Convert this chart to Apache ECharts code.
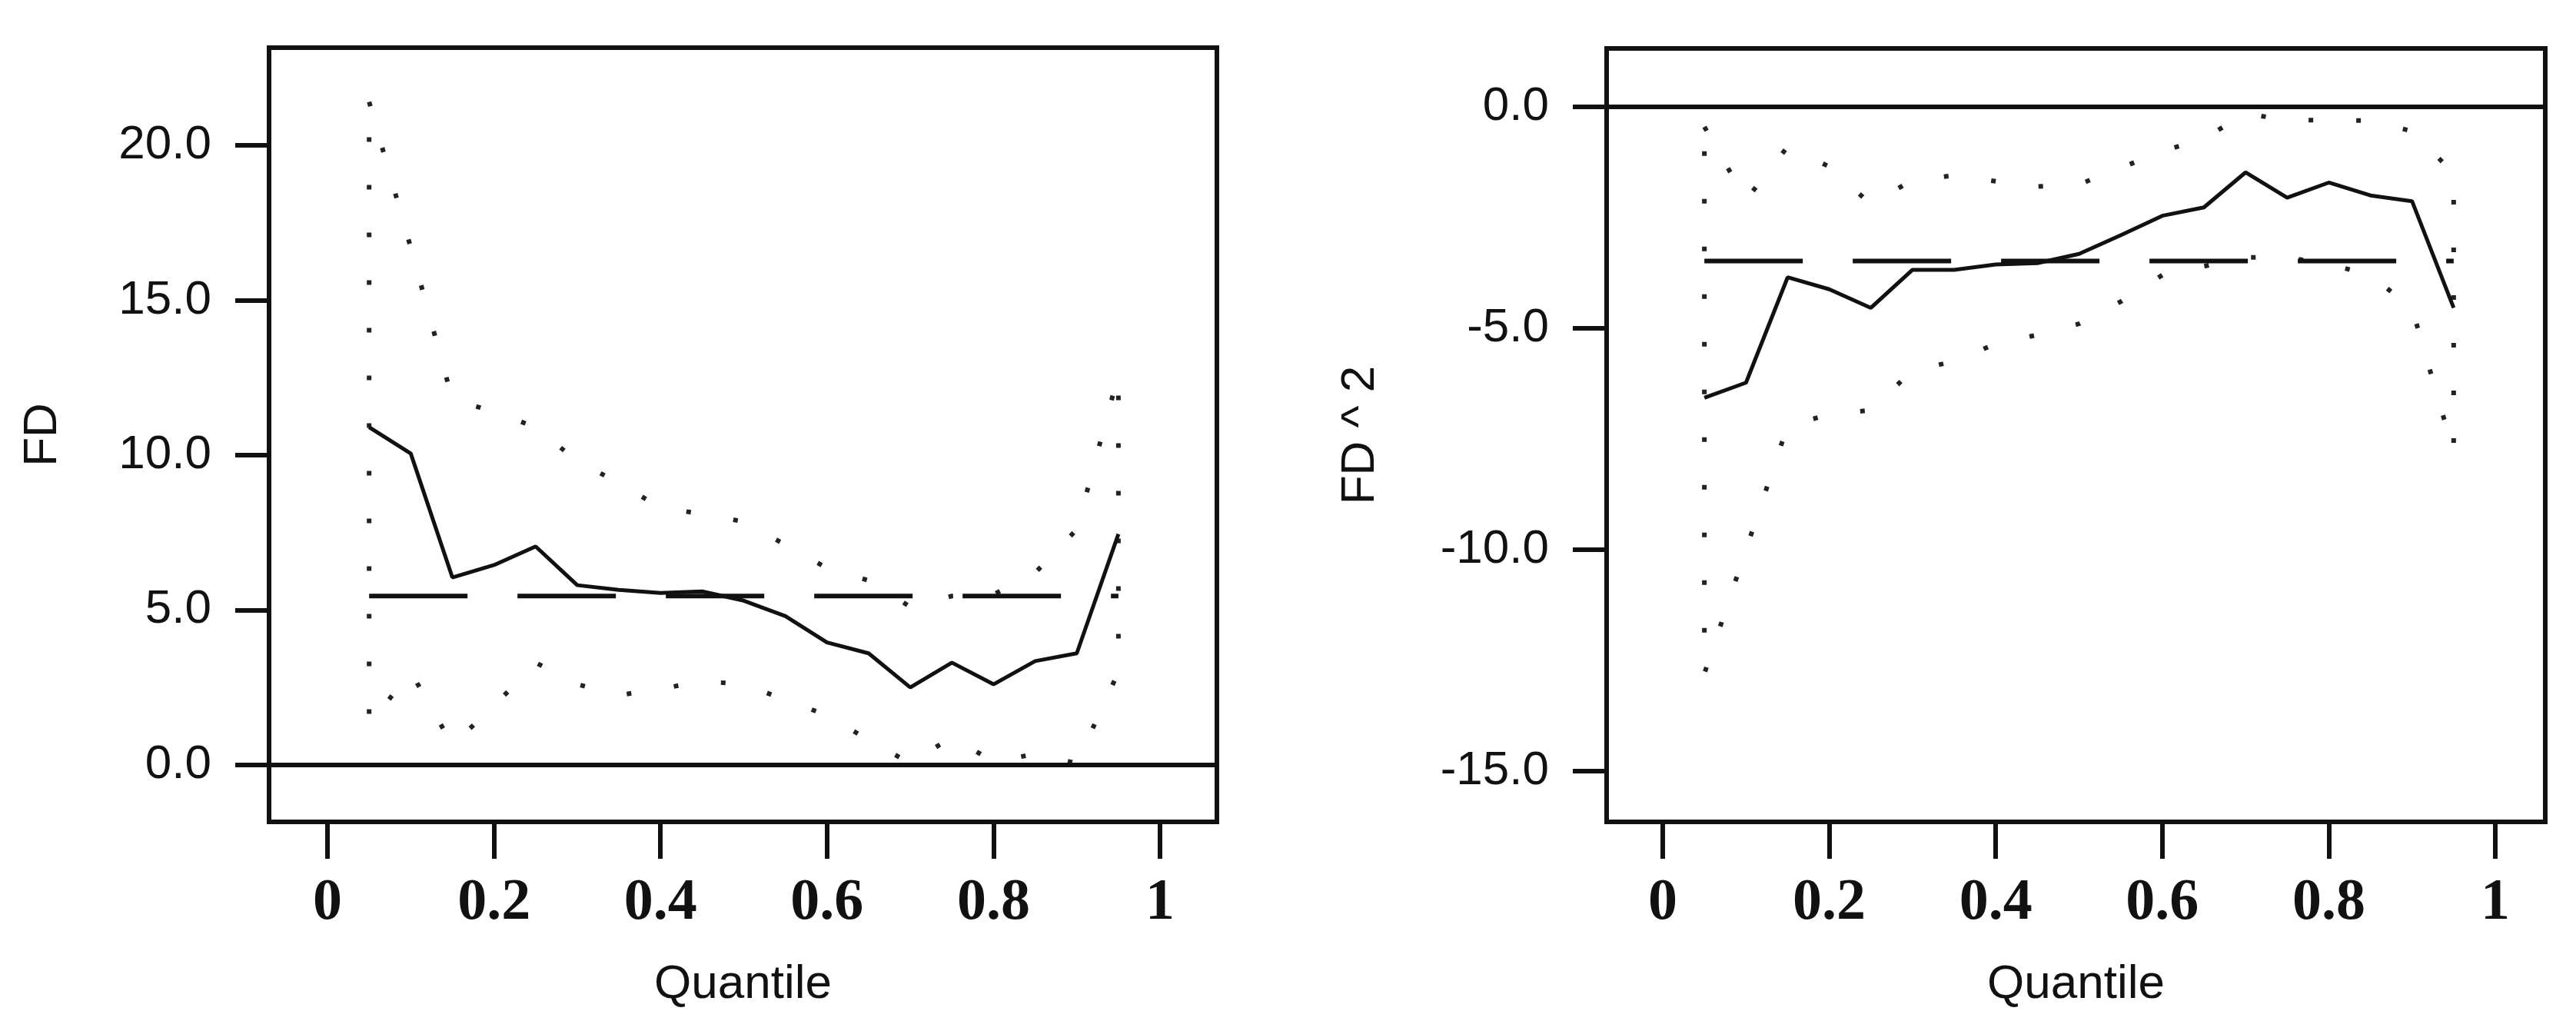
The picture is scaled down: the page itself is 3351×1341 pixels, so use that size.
<!DOCTYPE html>
<html>
<head>
<meta charset="utf-8">
<title>Quantile process: FD and FD^2</title>
<script src="https://cdn.jsdelivr.net/npm/echarts@6/dist/echarts.min.js"></script>
<style>
  html, body { margin: 0; padding: 0; background: #fff; }
  #chart { width: 3351px; height: 1341px; }
</style>
</head>
<body>
<div id="chart"></div>
<script>
// quantiles at which the coefficients were estimated
const quantiles = [0.05, 0.10, 0.15, 0.20, 0.25, 0.30, 0.35, 0.40, 0.45, 0.50,
                   0.55, 0.60, 0.65, 0.70, 0.75, 0.80, 0.85, 0.90, 0.95];

// FD panel
const fdCoef  = [10.9, 10.05, 6.05, 6.45, 7.05, 5.8, 5.65, 5.55, 5.6, 5.3,
                 4.8, 3.95, 3.6, 2.5, 3.3, 2.6, 3.35, 3.6, 7.45];
const fdUpper = [21.4, 16.7, 11.8, 11.4, 10.9, 9.8, 9.1, 8.3, 8.1, 7.85,
                 7.1, 6.35, 5.95, 5.1, 5.45, 5.5, 6.2, 7.6, 12.6];
const fdLower = [1.3, 3.0, 0.65, 1.9, 3.3, 2.6, 2.25, 2.45, 2.7, 2.6,
                 2.1, 1.6, 0.8, 0.05, 0.9, 0.1, 0.35, 0.05, 3.0];
const fdOls = 5.45;

// FD^2 panel
const fd2Coef  = [-6.57, -6.23, -3.85, -4.12, -4.54, -3.68, -3.68, -3.56, -3.53, -3.32,
                  -2.9, -2.46, -2.27, -1.48, -2.05, -1.71, -2.0, -2.13, -4.54];
const fd2Upper = [-0.45, -2.1, -0.9, -1.35, -2.2, -1.65, -1.55, -1.68, -1.8, -1.75,
                  -1.38, -1.0, -0.72, -0.15, -0.3, -0.3, -0.31, -0.55, -1.5];
const fd2Lower = [-12.8, -10.0, -7.2, -6.95, -6.85, -5.95, -5.75, -5.35, -5.15, -4.9,
                  -4.4, -3.8, -3.6, -3.4, -3.4, -3.55, -3.8, -4.55, -7.8];
const fd2Ols = -3.48;

// tick labels
const xTicks = [0, 0.2, 0.4, 0.6, 0.8, 1];
const fdTicks = [0, 5, 10, 15, 20];
const fd2Ticks = [-15, -10, -5, 0];

const ink = '#111';
const sans = "'Liberation Sans', Arial, sans-serif";
const serif = "'Liberation Serif', 'Times New Roman', serif";

// closed band: upper edge left to right, lower edge back
function bandPath(upper, lower) {
  const pts = quantiles.map((q, i) => [q, upper[i]]);
  for (let i = quantiles.length - 1; i >= 0; i--) pts.push([quantiles[i], lower[i]]);
  pts.push([quantiles[0], upper[0]]);
  return pts;
}

function xAxisFor(idx, min, max) {
  return {
    type: 'value', gridIndex: idx, min: min, max: max, position: 'bottom',
    name: 'Quantile', nameLocation: 'middle', nameGap: 181,
    nameTextStyle: { fontFamily: sans, fontSize: 62, color: ink },
    axisLine: { show: false, onZero: false },
    axisTick: { show: true, length: 48, lineStyle: { color: ink, width: 6 }, customValues: xTicks },
    axisLabel: {
      margin: 68, fontFamily: serif, fontWeight: 'bold', fontSize: 76, color: ink,
      customValues: xTicks,
      formatter: v => String(v)
    },
    splitLine: { show: false }
  };
}

function yAxisFor(idx, min, max, ticks, name, gap) {
  return {
    type: 'value', gridIndex: idx, min: min, max: max, position: 'left',
    name: name, nameLocation: 'middle', nameGap: gap, nameRotate: 90,
    nameTextStyle: { fontFamily: sans, fontSize: 62, color: ink },
    axisLine: { show: false, onZero: false },
    axisTick: { show: true, length: 44, lineStyle: { color: ink, width: 6 }, customValues: ticks },
    axisLabel: {
      margin: 75, fontFamily: sans, fontSize: 62, color: ink,
      customValues: ticks,
      formatter: v => v.toFixed(1)
    },
    splitLine: { show: false }
  };
}

function panelSeries(idx, coef, upper, lower, ols) {
  return [
    {
      type: 'line', xAxisIndex: idx, yAxisIndex: idx,
      data: bandPath(upper, lower), showSymbol: false, symbol: 'none',
      lineStyle: { color: '#222', width: 6, type: [6, 56], cap: 'butt' }, z: 2
    },
    {
      type: 'line', xAxisIndex: idx, yAxisIndex: idx,
      data: [[quantiles[0], ols], [quantiles[quantiles.length - 1], ols]],
      symbol: 'none', lineStyle: { color: ink, width: 6, type: [128, 65] }, z: 3,
      markLine: {
        silent: true, symbol: ['none', 'none'], label: { show: false },
        lineStyle: { color: ink, width: 6, type: 'solid' },
        data: [{ yAxis: 0 }]
      }
    },
    {
      type: 'line', xAxisIndex: idx, yAxisIndex: idx,
      data: quantiles.map((q, i) => [q, coef[i]]),
      symbol: 'none', lineStyle: { color: ink, width: 5 }, z: 4
    }
  ];
}

const chart = echarts.init(document.getElementById('chart'), null, { renderer: 'canvas' });
chart.setOption({
  backgroundColor: '#fff',
  animation: false,
  grid: [
    { left: 350, top: 62, width: 1233, height: 1007, show: true, borderColor: ink, borderWidth: 6, backgroundColor: 'transparent' },
    { left: 2090, top: 63, width: 1221, height: 1006, show: true, borderColor: ink, borderWidth: 6, backgroundColor: 'transparent' }
  ],
  xAxis: [xAxisFor(0, -0.0702, 1.0683), xAxisFor(1, -0.0674, 1.060)],
  yAxis: [
    yAxisFor(0, -1.84, 23.15, fdTicks, 'FD', 263),
    yAxisFor(1, -16.15, 1.32, fd2Ticks, 'FD ^ 2', 289)
  ],
  series: [].concat(
    panelSeries(0, fdCoef, fdUpper, fdLower, fdOls),
    panelSeries(1, fd2Coef, fd2Upper, fd2Lower, fd2Ols)
  )
});
</script>
</body>
</html>
